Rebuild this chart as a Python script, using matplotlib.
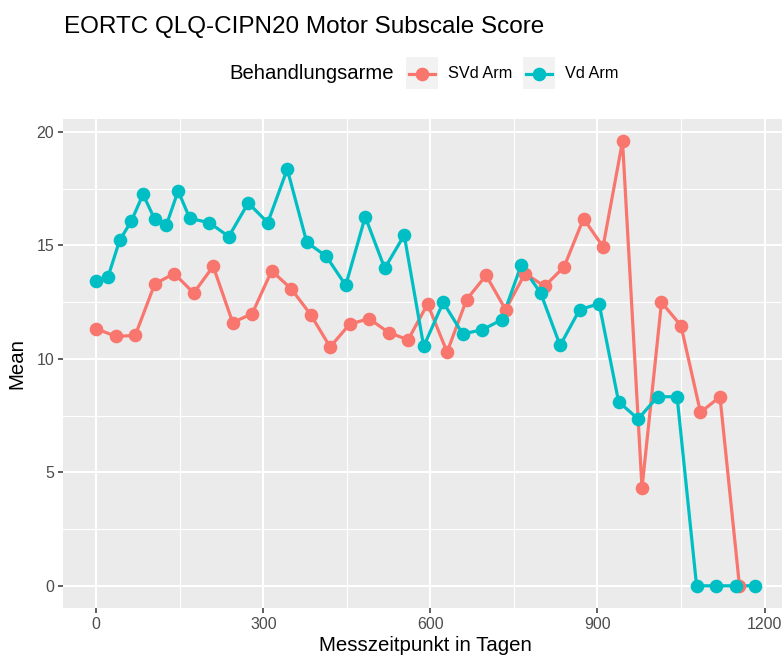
import numpy as np
import matplotlib
matplotlib.use("Agg")
import matplotlib.pyplot as plt
from matplotlib.lines import Line2D
from matplotlib.patches import Rectangle

plt.rcParams['font.family'] = ['Liberation Sans', 'DejaVu Sans']

# SVd arm: every 35 days
svd_days = [0, 35, 70, 105, 140, 175, 210, 245, 280, 315, 350, 385, 420, 455,
            490, 525, 560, 595, 630, 665, 700, 735, 770, 805, 840, 875, 910,
            945, 980, 1015, 1050, 1085, 1120, 1155]
svd_mean = [11.33, 10.99, 11.03, 13.30, 13.76, 12.90, 14.08, 11.60, 11.99,
            13.88, 13.09, 11.95, 10.52, 11.53, 11.77, 11.16, 10.84, 12.42,
            10.30, 12.61, 13.68, 12.17, 13.76, 13.20, 14.05, 16.18, 14.94,
            19.59, 4.31, 12.49, 11.46, 7.64, 8.33, 0.0]

# Vd arm: 21-day cycles first, then every 35 days
vd_days = [0, 21, 42, 63, 84, 105, 126, 147, 168, 203, 238, 273, 308, 343,
           378, 413, 448, 483, 518, 553, 588, 623, 658, 693, 728, 763, 798,
           833, 868, 903, 938, 973, 1008, 1043, 1078, 1113, 1148, 1183]
vd_mean = [13.45, 13.60, 15.22, 16.07, 17.25, 16.15, 15.90, 17.40, 16.19,
           16.00, 15.39, 16.87, 16.00, 18.36, 15.14, 14.52, 13.24, 16.26,
           13.99, 15.45, 10.55, 12.49, 11.10, 11.28, 11.72, 14.13, 12.90,
           10.59, 12.17, 12.43, 8.11, 7.35, 8.33, 8.33, 0.0, 0.0, 0.0, 0.0]

arm_labels = ['SVd Arm', 'Vd Arm']
arm_colors = ['#F8766D', '#00BFC4']
x_ticks = [0, 300, 600, 900, 1200]
y_ticks = [0, 5, 10, 15, 20]

W, H = 782, 657
fig = plt.figure(figsize=(W / 100, H / 100), dpi=100)
ax = fig.add_axes([63.3 / W, 1 - 608 / H, (788 - 63.3) / W, (608 - 119) / H])
ax.set_facecolor('#EBEBEB')
for s in ax.spines.values():
    s.set_visible(False)

series = [(svd_days, svd_mean), (vd_days, vd_mean)]
for (d, m), c in zip(series, arm_colors):
    ax.plot(d, m, color=c, lw=2.3, zorder=3, solid_capstyle='butt')
for (d, m), c in zip(series, arm_colors):
    ax.plot(d, m, ls='none', marker='o', ms=8.8, color=c, mec=c, zorder=4)

allx = svd_days + vd_days
ally = svd_mean + vd_mean
xr = max(allx) - min(allx)
yr = max(ally) - min(ally)
ax.set_xlim(min(allx) - 0.05 * xr, max(allx) + 0.05 * xr)
ax.set_ylim(min(ally) - 0.05 * yr, max(ally) + 0.05 * yr)

ax.set_xticks(x_ticks)
ax.set_yticks(y_ticks)
ax.set_xticks([150, 450, 750, 1050], minor=True)
ax.set_yticks([2.5, 7.5, 12.5, 17.5], minor=True)
ax.grid(which='major', color='white', lw=1.5)
ax.grid(which='minor', color='white', lw=0.8)
ax.set_axisbelow(True)
ax.tick_params(which='major', length=3.5, width=1.1, color='#333333',
               labelcolor='#4D4D4D', labelsize=11.5, pad=3)
ax.tick_params(which='minor', length=0)

ax.set_xlabel('Messzeitpunkt in Tagen', fontsize=14.7, color='black', labelpad=3)
ax.set_ylabel('Mean', fontsize=14.7, color='black', labelpad=7)

fig.text(63.5 / W, 1 - 33 / H, 'EORTC QLQ-CIPN20 Motor Subscale Score',
         fontsize=17.5, va='baseline', ha='left')

# legend (top, horizontal)
ly = 1 - 73.5 / H
fig.text(229 / W, ly, 'Behandlungsarme', fontsize=14.6, va='center', ha='left')
key_x = [405.7, 522.7]
txt_x = [447.7, 565]
for kx, tx, lab, c in zip(key_x, txt_x, arm_labels, arm_colors):
    fig.patches.append(Rectangle((kx / W, (H - 89.3) / H), 32 / W, 32 / H,
                                 transform=fig.transFigure, facecolor='#F2F2F2',
                                 edgecolor='none'))
    fig.lines.append(Line2D([(kx + 3) / W, (kx + 29) / W], [ly, ly],
                            transform=fig.transFigure, color=c, lw=2.3))
    fig.lines.append(Line2D([(kx + 16) / W], [ly], transform=fig.transFigure,
                            marker='o', ms=8.8, color=c, ls='none'))
    fig.text(tx / W, ly, lab, fontsize=11.7, va='center', ha='left')

fig.savefig('out.png', dpi=100)
